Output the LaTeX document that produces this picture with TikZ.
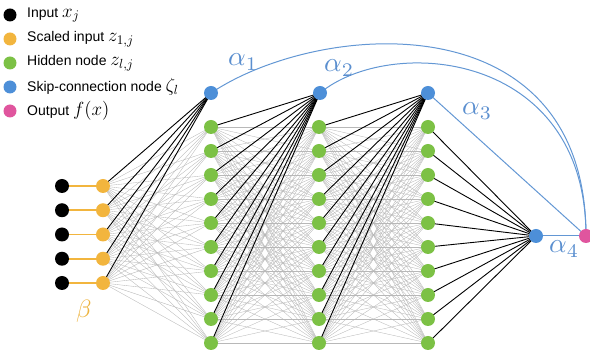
\documentclass[tikz,border=0pt]{standalone}
\usepackage{fontspec}
\setmainfont{Liberation Sans}
\usetikzlibrary{backgrounds}
\definecolor{cscl}{HTML}{F2B53E}
\definecolor{chid}{HTML}{7CC145}
\definecolor{cskp}{HTML}{4D8FD8}
\definecolor{cout}{HTML}{E0559E}
\definecolor{cline}{HTML}{6397D4}
\definecolor{calpha}{HTML}{5B8FCF}
\definecolor{cbeta}{HTML}{EDB440}
\newcommand\labmath[1]{\scalebox{2.75}{$#1$}}
\newcommand\legmath[1]{\scalebox{1.32}{$#1$}}
\begin{document}
\begin{tikzpicture}[x=1pt,y=-1pt,
  dot/.style={circle,inner sep=0pt,minimum size=14pt,draw=none},
  inpdot/.style={dot,fill=black},
  scldot/.style={dot,fill=cscl},
  hiddot/.style={dot,fill=chid},
  skpdot/.style={dot,fill=cskp},
  outdot/.style={dot,fill=cout},
  mesh/.style={draw=black!28,line width=0.35pt},
  strong/.style={draw=black,line width=0.9pt},
  skip/.style={draw=cline,line width=1pt},
  scaleline/.style={draw=cscl,line width=1.6pt},
  legtext/.style={anchor=west,inner sep=0pt,font=\fontsize{14}{16}\selectfont},
  biglabel/.style={anchor=base west,inner sep=0pt}]
\useasboundingbox (0,0) rectangle (590,352);

% legend
\node[inpdot,minimum size=13pt] (l1) at (10,15) {};
\node[scldot,minimum size=13pt] (l2) at (10,39) {};
\node[hiddot,minimum size=13pt] (l3) at (10,63) {};
\node[skpdot,minimum size=13pt] (l4) at (10,87) {};
\node[outdot,minimum size=13pt] (l5) at (10,111) {};
\node[legtext] (t1) at (27,15) {Input \legmath{x_j}};
\node[legtext] (t2) at (27,39) {Scaled input \legmath{z_{1,j}}};
\node[legtext] (t3) at (27,63) {Hidden node \legmath{z_{l,j}}};
\node[legtext] (t4) at (27,87) {Skip-connection node \legmath{\zeta_l}};
\node[legtext] (t5) at (27,111) {Output \legmath{f(x)}};

% nodes
\foreach \i in {1,...,5} {
  \node[inpdot] (in\i) at (62,{186+24.25*(\i-1)}) {};
  \node[scldot] (sc\i) at (103,{186+24.25*(\i-1)}) {};
}
\foreach \l/\x in {1/211,2/319,3/428} {
  \foreach \j in {1,...,10} {
    \node[hiddot] (h\l-\j) at (\x,{127+24*(\j-1)}) {};
  }
}
\node[skpdot] (s1) at (211,93) {};
\node[skpdot] (s2) at (320,93) {};
\node[skpdot] (s3) at (428,93) {};
\node[skpdot] (s4) at (536,236) {};
\node[outdot] (out) at (586,236) {};

\begin{scope}[on background layer]
  % mesh
  \foreach \i in {1,...,5} {
    \foreach \j in {1,...,10} {
      \draw[mesh] (sc\i.center) -- (h1-\j.center);
    }
  }
  \foreach \i in {1,...,10} {
    \foreach \j in {1,...,10} {
      \draw[mesh] (h1-\i.center) -- (h2-\j.center);
      \draw[mesh] (h2-\i.center) -- (h3-\j.center);
    }
  }
  % scaling
  \foreach \i in {1,...,5} {
    \draw[scaleline] (in\i.center) -- (sc\i.center);
  }
  % skip inputs
  \foreach \i in {1,...,5} {
    \draw[strong] (s1.center) -- (sc\i.center);
  }
  \foreach \j in {1,...,10} {
    \draw[strong] (s2.center) -- (h1-\j.center);
    \draw[strong] (s3.center) -- (h2-\j.center);
    \draw[strong] (s4.center) -- (h3-\j.center);
  }
  % skip connections to output
  \draw[skip] (s1.center) .. controls (320,20) and (586,0) .. (out.center);
  \draw[skip] (s2.center) .. controls (390,35) and (586,50) .. (out.center);
  \draw[skip] (s3.center) -- (out.center);
  \draw[skip] (s4.center) -- (out.center);
\end{scope}

% labels
\node[biglabel,text=calpha] (a1) at (228,66) {\labmath{\alpha_1}};
\node[biglabel,text=calpha] (a2) at (324,72) {\labmath{\alpha_2}};
\node[biglabel,text=calpha] (a3) at (462,115) {\labmath{\alpha_3}};
\node[biglabel,text=calpha] (a4) at (549,253) {\labmath{\alpha_4}};
\node[biglabel,text=cbeta] (b) at (76,318) {\scalebox{2.5}{$\beta$}};
\end{tikzpicture}
\end{document}
